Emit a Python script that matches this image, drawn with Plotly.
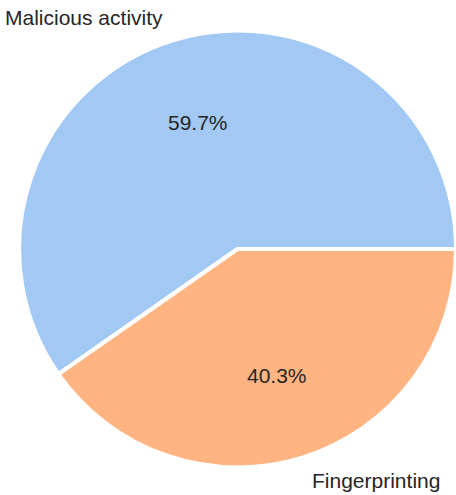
import math
import plotly.graph_objects as go

labels = ["Malicious activity", "Fingerprinting"]
values = [59.7, 40.3]
colors = ["#a1c9f4", "#ffb482"]

W, H = 456, 495
# pie geometry (pixels)
dom_x = [0.042, 1.0]
cx_px = (dom_x[0] + dom_x[1]) / 2 * W
r_px = (dom_x[1] - dom_x[0]) * W / 2
cy_px = 249
dom_y = [1 - (cy_px + r_px) / H, 1 - (cy_px - r_px) / H]
r_lab = r_px + 2  # matplotlib-like label radius reference

total = sum(values)
# first slice starts at 3 o'clock and runs counterclockwise
rot = 90 - values[0] / total * 360

fig = go.Figure(go.Pie(
    labels=labels, values=values, sort=False,
    direction="counterclockwise", rotation=rot,
    marker=dict(colors=colors, line=dict(color="white", width=4)),
    textinfo="none", hoverinfo="label+percent", showlegend=False,
    domain=dict(x=dom_x, y=dom_y),
))

font = dict(family="Liberation Sans, Arial, sans-serif", size=21, color="#262626")
start = 0.0
ann = []
for lab, v in zip(labels, values):
    frac = v / total
    mid = math.radians((start + frac / 2) * 360)
    start += frac
    lx = cx_px + 1.1 * r_lab * math.cos(mid)
    ly = cy_px - 1.1 * r_lab * math.sin(mid)
    ann.append(dict(x=lx / W, y=1 - ly / H, xref="paper", yref="paper",
                    text=lab, showarrow=False, font=font,
                    xanchor="left" if math.cos(mid) > 0 else "right",
                    yanchor="middle"))
    px = cx_px + 0.6 * r_lab * math.cos(mid)
    py = cy_px - 0.6 * r_lab * math.sin(mid)
    ann.append(dict(x=px / W, y=1 - py / H, xref="paper", yref="paper",
                    text=f"{100*frac:.1f}%", showarrow=False, font=font,
                    xanchor="center", yanchor="middle"))

fig.update_layout(width=W, height=H, margin=dict(l=0, r=0, t=0, b=0),
                  paper_bgcolor="white", plot_bgcolor="white",
                  annotations=ann)
fig.write_html("out.html", config={"displayModeBar": False},
               post_script="document.body.style.margin='0';")
